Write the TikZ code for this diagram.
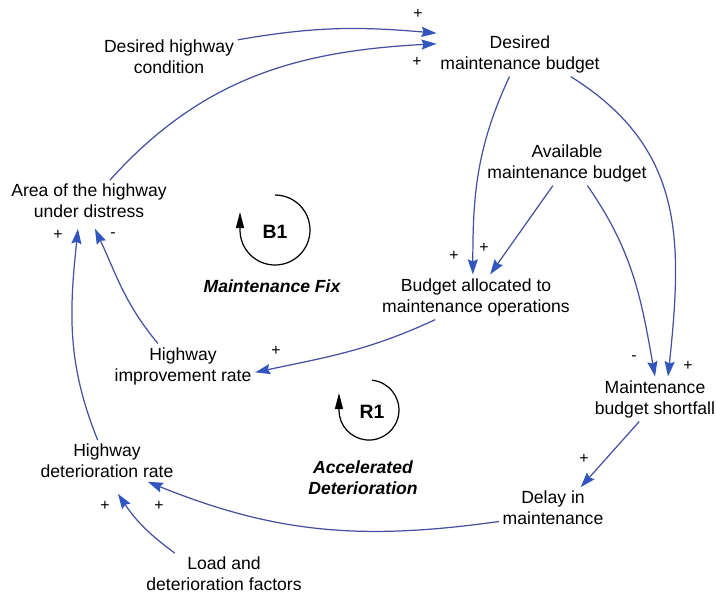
\documentclass[tikz,border=0pt]{standalone}
\usepackage{fontspec}
\setmainfont{Liberation Sans}
\usetikzlibrary{arrows.meta,calc}
\definecolor{linkblue}{RGB}{70,80,160}
\definecolor{headblue}{RGB}{50,85,190}

\begin{document}
\begin{tikzpicture}[x=0.02cm,y=0.02cm,
      var/.style={align=center,inner sep=2pt,font=\fontsize{10}{12}\selectfont},
      link/.style={draw=linkblue,line width=0.7pt,-{Stealth[length=0.3cm,width=0.2cm,inset=0.04cm,color=headblue]}},
      sgn/.style={inner sep=0.5pt,font=\fontsize{9}{9}\selectfont},
      lname/.style={font=\bfseries\fontsize{11}{12}\selectfont},
      ldesc/.style={align=center,font=\bfseries\itshape\fontsize{10}{12}\selectfont},
      lcirc/.style={draw,line width=0.7pt,-{Triangle[length=0.32cm,width=0.16cm]}}]
  \useasboundingbox (0,0) rectangle (716,-596);
  % variables
  \node[var] (dhc) at (169,-57) {Desired highway\\condition};
  \node[var] (dmb) at (520,-54) {Desired\\maintenance budget};
  \node[var] (amb) at (567,-163) {Available\\maintenance budget};
  \node[var] (area) at (89,-201) {Area of the highway\\under distress};
  \node[var] (bal) at (476,-297) {Budget allocated to\\maintenance operations};
  \node[var] (hir) at (183,-366) {Highway\\improvement rate};
  \node[var] (mbs) at (655,-399) {Maintenance\\budget shortfall};
  \node[var] (hdr) at (107,-461) {Highway\\deterioration rate};
  \node[var] (dim) at (553,-508) {Delay in\\maintenance};
  \node[var] (ldf) at (224,-574) {Load and\\deterioration factors};
  % causal links
  \draw[link] (dhc.14) to[out=10,in=175] (dmb.166);
  \draw[link] (area.45) to[out=48,in=183] (dmb.173);
  \draw[link] (dmb.245) to[out=245,in=90] (bal.98);
  \draw[link] (amb.238) -- (bal.58);
  \draw[link] (dmb.336) to[out=-32,in=84,looseness=1.1] (mbs.60);
  \draw[link] (amb.312) to[out=-55,in=100] (mbs.north);
  \draw[link] (bal.209) to[out=205,in=12] (hir.-5);
  \draw[link] (hir.138) to[out=130,in=-65] ($(area.south)+(6,-7)$);
  \draw[link] (hdr.114) to[out=112,in=-96] ($(area.south)+(-11,-7)$);
  \draw[link] (ldf.157) to[bend left=10] ($(hdr.south)+(11,-12)$);
  \draw[link] (dim.194) to[out=188,in=-22] (hdr.333);
  \draw[link] (mbs.235) -- (dim.37);
  % polarities
  \node[sgn] (p1) at (418,-14) {+};
  \node[sgn] (p2) at (417,-62) {+};
  \node[sgn] (p3) at (454,-256) {+};
  \node[sgn] (p4) at (484,-248) {+};
  \node[sgn] (p5) at (688,-366) {+};
  \node[sgn] (p6) at (634,-358) {-};
  \node[sgn] (p7) at (276,-351) {+};
  \node[sgn] (p8) at (58,-235) {+};
  \node[sgn] (p9) at (113,-235) {-};
  \node[sgn] (p10) at (105,-506) {+};
  \node[sgn] (p11) at (159,-506) {+};
  \node[sgn] (p12) at (584,-459) {+};
  % loops
  \draw[lcirc] (275,-195) arc[start angle=90,end angle=-180,radius=35] -- ++(0,18);
  \node[lname] (b1) at (275,-232) {B1};
  \node[ldesc] (b1d) at (272,-286) {Maintenance Fix};
  \draw[lcirc] (372.1,-380.2) arc[start angle=84,end angle=-180,radius=30] -- ++(0,17);
  \node[lname] (r1) at (372,-412) {R1};
  \node[ldesc] (r1d) at (363,-478) {Accelerated\\Deterioration};
\end{tikzpicture}
\end{document}
